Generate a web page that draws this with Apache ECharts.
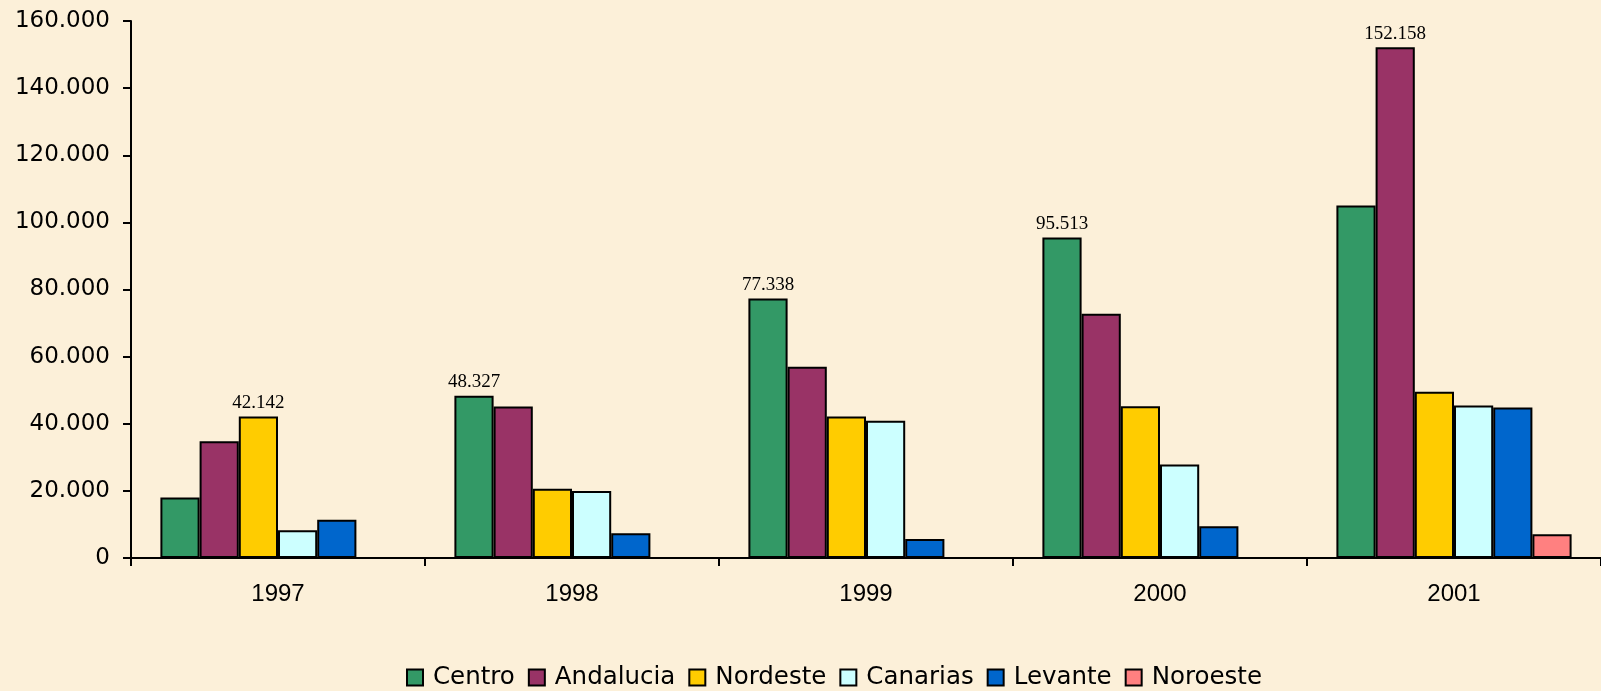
<!DOCTYPE html>
<html>
<head>
<meta charset="utf-8">
<script src="https://cdn.jsdelivr.net/npm/echarts@6/dist/echarts.min.js"></script>
<style>
  html, body { margin: 0; padding: 0; background: #fcf0d9; }
  #chart { width: 1601px; height: 691px; }
</style>
</head>
<body>
<div id="chart"></div>
<script>
const years = ['1997', '1998', '1999', '2000', '2001'];
const centro = [18060, 48327, 77338, 95513, 105050];
const andalucia = [34800, 45140, 57010, 72740, 152158];
const nordeste = [42142, 20630, 42150, 45230, 49530];
const canarias = [8280, 19940, 40870, 27890, 45440];
const levante = [11360, 7380, 5680, 9450, 44840];
const noroeste = [null, null, null, null, 7090];
const yTicks = [0, 20000, 40000, 60000, 80000, 100000, 120000, 140000, 160000];

const seriesList = [
  { name: 'Centro', data: centro, color: '#339966' },
  { name: 'Andalucia', data: andalucia, color: '#993366' },
  { name: 'Nordeste', data: nordeste, color: '#ffcc00' },
  { name: 'Canarias', data: canarias, color: '#ccffff' },
  { name: 'Levante', data: levante, color: '#0066cc' },
  { name: 'Noroeste', data: noroeste, color: '#ff8080' },
];

// separador de miles con punto
const fmt = (v) => String(v).replace(/\B(?=(\d{3})+(?!\d))/g, '.');

// sólo se rotula la barra más alta de cada año
const maxPerYear = years.map((_, i) =>
  Math.max(...seriesList.map((s) => s.data[i] || 0))
);

const chart = echarts.init(document.getElementById('chart'));

const option = {
  backgroundColor: '#fcf0d9',
  animation: false,
  grid: { left: 131, right: 0, top: 21, bottom: 133 },
  legend: {
    top: 660,
    left: 401,
    icon: 'rect',
    itemWidth: 16,
    itemHeight: 16,
    itemGap: 13,
    textStyle: {
      fontFamily: 'DejaVu Sans',
      fontSize: 24.5,
      color: '#000',
      padding: [0, 0, 0, 5],
    },
    data: seriesList.map((s) => s.name),
  },
  xAxis: {
    type: 'category',
    data: years,
    axisLine: { lineStyle: { color: '#000', width: 2 } },
    axisTick: { show: true, length: 8, lineStyle: { color: '#000', width: 2 } },
    axisLabel: { fontFamily: 'Liberation Sans, Arial', fontSize: 24, color: '#000', margin: 24 },
  },
  yAxis: {
    type: 'value',
    min: yTicks[0],
    max: yTicks[yTicks.length - 1],
    interval: yTicks[1] - yTicks[0],
    splitLine: { show: false },
    axisLine: { show: true, lineStyle: { color: '#000', width: 2 } },
    axisTick: { show: true, length: 8, lineStyle: { color: '#000', width: 2 } },
    axisLabel: {
      fontFamily: 'DejaVu Sans',
      fontSize: 23,
      color: '#000',
      margin: 21,
      formatter: fmt,
    },
  },
  series: seriesList.map((s) => ({
    name: s.name,
    type: 'bar',
    barGap: 0,
    barCategoryGap: '20%',
    itemStyle: { color: s.color, borderColor: '#000', borderWidth: 2 },
    data: s.data.map((v, i) => ({
      value: v,
      label: {
        show: v != null && v === maxPerYear[i],
        position: 'top',
        distance: 4,
        fontFamily: 'Liberation Serif, Times New Roman',
        fontSize: 19,
        color: '#000',
        formatter: (p) => fmt(p.value),
      },
    })),
  })),
};

chart.setOption(option);
</script>
</body>
</html>
